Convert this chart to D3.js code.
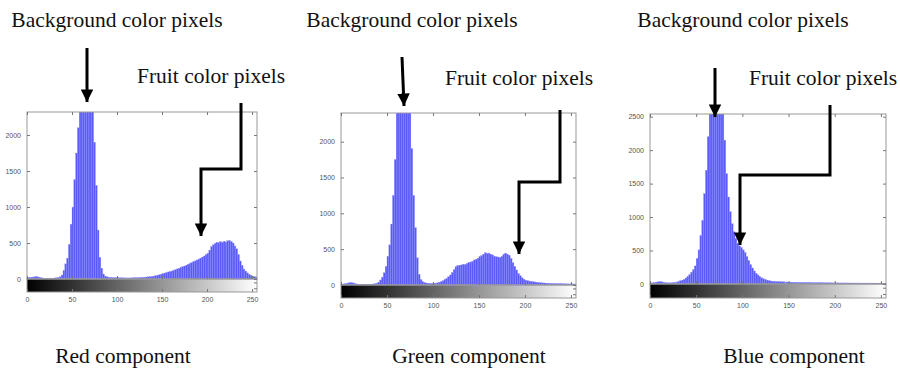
<!DOCTYPE html>
<html>
<head>
<meta charset="utf-8">
<script src="https://cdn.jsdelivr.net/npm/d3@7"></script>
<style>
  body { margin: 0; background: #fff; }
  svg { display: block; }
  .ttl { font-family: "Liberation Serif", "Times New Roman", serif; font-size: 21.5px; fill: #111; }
  .tick text { font-family: "Liberation Sans", Arial, sans-serif; font-size: 7px; fill: #555; }
  .tick line { stroke: #777; }
  .domain { stroke: none; }
</style>
</head>
<body>
<svg id="chart" width="900" height="370"></svg>
<script>
// histogram counts, bins of 2 grey levels (0-1, 2-3, ... 254-255)
var redCounts = [
  18, 22, 25, 28, 30, 32, 28, 20, 15, 12, 10, 10, 10, 12, 12, 14,
  16, 20, 30, 55, 120, 210, 290, 480, 760, 1000, 1380, 1750, 2100, 2600, 3100, 3500,
  3700, 3600, 3400, 3100, 2700, 1900, 1300, 680, 300, 150, 70, 40, 30, 25, 22, 20,
  20, 18, 18, 17, 16, 16, 15, 15, 15, 15, 16, 16, 18, 18, 20, 22,
  24, 26, 28, 30, 32, 36, 40, 46, 52, 58, 66, 74, 82, 90, 98, 105,
  112, 120, 130, 140, 150, 160, 170, 180, 192, 205, 215, 228, 240, 252, 265, 278,
  290, 305, 320, 340, 360, 400, 450, 475, 495, 510, 505, 520, 510, 525, 515, 530,
  535, 520, 500, 460, 420, 340, 250, 190, 140, 110, 85, 65, 50, 40, 32, 28
];
var greenCounts = [
  12, 15, 20, 25, 32, 35, 30, 22, 15, 12, 10, 10, 10, 10, 11, 12,
  12, 14, 18, 25, 40, 70, 110, 170, 260, 400, 560, 850, 1250, 1750, 2500, 3200,
  3700, 3900, 3800, 3500, 3100, 2600, 1900, 1250, 800, 380, 150, 75, 45, 35, 28, 25,
  22, 22, 23, 25, 30, 38, 48, 60, 78, 95, 115, 140, 175, 215, 255, 270,
  275, 280, 290, 285, 300, 310, 320, 330, 350, 360, 375, 395, 410, 430, 450, 440,
  445, 430, 420, 400, 395, 390, 385, 400, 430, 445, 430, 415, 370, 310, 260, 210,
  160, 130, 100, 80, 68, 60, 55, 50, 45, 42, 38, 35, 32, 30, 28, 26,
  25, 24, 22, 20, 20, 19, 18, 18, 17, 17, 16, 16, 15, 15, 15, 14
];
var blueCounts = [
  15, 18, 22, 28, 33, 35, 32, 25, 20, 18, 17, 18, 20, 24, 30, 38,
  48, 58, 70, 90, 115, 140, 175, 215, 270, 380, 510, 720, 950, 1350, 1700, 2200,
  2800, 3300, 3700, 3900, 3800, 3500, 3100, 2700, 2150, 1650, 1300, 1080, 900, 780, 680, 610,
  570, 545, 510, 470, 410, 350, 290, 240, 195, 160, 135, 110, 92, 78, 68, 58,
  50, 45, 42, 40, 38, 36, 34, 33, 32, 31, 30, 28, 27, 26, 25, 25,
  24, 24, 23, 23, 22, 22, 21, 21, 20, 20, 20, 19, 19, 19, 18, 18,
  18, 18, 17, 17, 17, 17, 16, 16, 16, 16, 16, 15, 15, 15, 15, 15,
  15, 15, 14, 14, 14, 14, 14, 14, 14, 14, 13, 13, 13, 13, 13, 13
];
var xTicks = [0, 50, 100, 150, 200, 250];
var yTicksRG = [0, 500, 1000, 1500, 2000];
var yTicksB = [0, 500, 1000, 1500, 2000, 2500];
var yMax = [2320, 2400, 2540];
var captions = ["Red component", "Green component", "Blue component"];
var bgLabel = "Background color pixels";
var fruitLabel = "Fruit color pixels";

var svg = d3.select("#chart");
var defs = svg.append("defs");
var grad = defs.append("linearGradient").attr("id", "grey").attr("x1", "0%").attr("x2", "100%");
grad.append("stop").attr("offset", "0%").attr("stop-color", "#000");
grad.append("stop").attr("offset", "100%").attr("stop-color", "#fff");

var mk = defs.append("marker").attr("id", "head").attr("viewBox", "0 0 10 10")
    .attr("refX", 10).attr("refY", 5).attr("markerWidth", 4.2).attr("markerHeight", 4.2)
    .attr("markerUnits", "strokeWidth").attr("orient", "auto");
mk.append("path").attr("d", "M0,0L10,5L0,10Z").attr("fill", "#000");

var panels = [
  {counts: redCounts, ymax: yMax[0], yt: yTicksRG, l: 27, r: 257, t: 112, z: 279, cb: 292, cap: [123, 363],
   bg: [117, 27], fr: [211, 83], bgArrow: [[87, 48], [87, 102]],
   frArrow: [[241, 103], [241, 169], [201, 169], [201, 236]]},
  {counts: greenCounts, ymax: yMax[1], yt: yTicksRG, l: 341, r: 576, t: 113, z: 285, cb: 298, cap: [469, 363],
   bg: [412, 27], fr: [519, 85], bgArrow: [[402, 57], [404, 106]],
   frArrow: [[560, 110], [560, 182], [519, 182], [519, 254]]},
  {counts: blueCounts, ymax: yMax[2], yt: yTicksB, l: 650, r: 886, t: 114, z: 284, cb: 298, cap: [794, 363],
   bg: [743, 27], fr: [823, 85], bgArrow: [[715, 68], [715, 117]],
   frArrow: [[830, 105], [830, 175], [740, 175], [740, 245]]}
];

panels.forEach(function(p, k) {
    var x = d3.scaleLinear().domain([0, 255.5]).range([p.l, p.r]);
    var y = d3.scaleLinear().domain([0, p.ymax]).range([p.z, p.t]);
    var g = svg.append("g");

    defs.append("clipPath").attr("id", "clip" + k)
        .append("rect").attr("x", p.l).attr("y", p.t).attr("width", p.r - p.l).attr("height", p.z - p.t);

    g.append("g").attr("clip-path", "url(#clip" + k + ")")
        .selectAll("rect").data(p.counts).enter().append("rect")
        .attr("x", function(d, i) { return x(2 * i); })
        .attr("width", function(d, i) { return x(2 * i + 2) - x(2 * i); })
        .attr("y", function(d) { return y(Math.min(d, p.ymax * 1.01)); })
        .attr("height", function(d) { return p.z - y(Math.min(d, p.ymax * 1.01)); })
        .attr("fill", "#5a5af6")
        .attr("stroke", "#8c8cff")
        .attr("stroke-width", 0.3);

    // grey level colorbar
    g.append("rect").attr("x", p.l).attr("y", p.z).attr("width", p.r - p.l).attr("height", p.cb - p.z)
        .attr("fill", "url(#grey)");

    // axes boxes
    g.append("rect").attr("x", p.l).attr("y", p.t).attr("width", p.r - p.l).attr("height", p.z - p.t)
        .attr("fill", "none").attr("stroke", "#999").attr("stroke-width", 1);
    g.append("rect").attr("x", p.l).attr("y", p.z).attr("width", p.r - p.l).attr("height", p.cb - p.z)
        .attr("fill", "none").attr("stroke", "#999").attr("stroke-width", 1);

    g.append("g").attr("transform", "translate(0," + p.cb + ")")
        .call(d3.axisBottom(x).tickValues(xTicks).tickSize(-3).tickPadding(5).tickFormat(d3.format("d")));
    g.append("g").attr("transform", "translate(0," + p.t + ")")
        .call(d3.axisTop(x).tickValues(xTicks).tickSize(-3).tickFormat(""));
    g.append("g").attr("transform", "translate(0," + p.z + ")")
        .call(d3.axisBottom(x).tickValues(xTicks).tickSize(-3).tickFormat(""));
    g.append("g").attr("transform", "translate(" + p.l + ",0)")
        .call(d3.axisLeft(y).tickValues(p.yt).tickSize(-3).tickPadding(6).tickFormat(d3.format("d")));
    g.append("g").attr("transform", "translate(" + p.r + ",0)")
        .call(d3.axisRight(y).tickValues(p.yt).tickSize(-3).tickFormat(""));
    // small ticks on the colorbar's right side
    [0.3, 0.75].forEach(function(f) {
        var yy = p.z + f * (p.cb - p.z);
        g.append("line").attr("x1", p.r).attr("x2", p.r - 3).attr("y1", yy).attr("y2", yy)
            .attr("stroke", "#777");
    });
    g.selectAll(".tick line").attr("stroke", "#777");

    // annotations
    g.append("text").attr("class", "ttl").attr("x", p.bg[0]).attr("y", p.bg[1])
        .attr("text-anchor", "middle").text(bgLabel);
    g.append("text").attr("class", "ttl").attr("x", p.fr[0]).attr("y", p.fr[1])
        .attr("text-anchor", "middle").text(fruitLabel);
    g.append("text").attr("class", "ttl").attr("x", p.cap[0]).attr("y", p.cap[1])
        .attr("text-anchor", "middle").text(captions[k]);

    var line = d3.line();
    g.append("path").attr("d", line(p.bgArrow)).attr("fill", "none")
        .attr("stroke", "#000").attr("stroke-width", 3).attr("marker-end", "url(#head)");
    g.append("path").attr("d", line(p.frArrow)).attr("fill", "none")
        .attr("stroke", "#000").attr("stroke-width", 3).attr("marker-end", "url(#head)");
});
</script>
</body>
</html>
